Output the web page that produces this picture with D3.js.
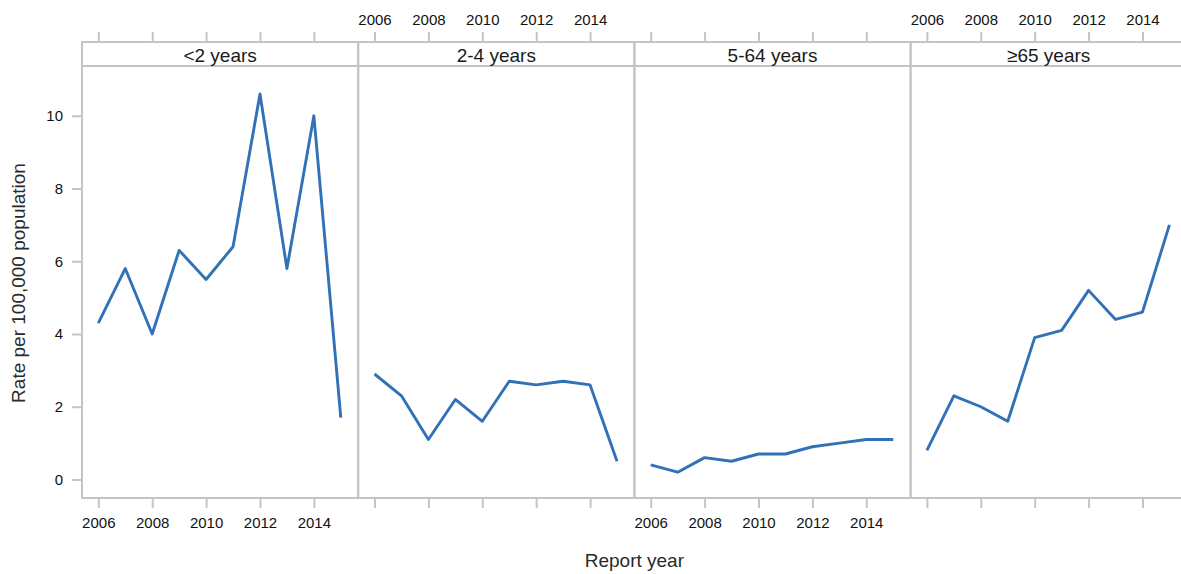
<!DOCTYPE html>
<html>
<head>
<meta charset="utf-8">
<script src="https://cdn.jsdelivr.net/npm/d3@7"></script>
<style>
  html, body { margin: 0; padding: 0; background: #fff; }
  svg { display: block; font-family: "Liberation Sans", Arial, sans-serif; }
</style>
</head>
<body>
<svg id="chart" width="1181" height="574"></svg>
<script>
// Report years and age-group panels
const years = [2006, 2007, 2008, 2009, 2010, 2011, 2012, 2013, 2014, 2015];
const groups = ["<2 years", "2-4 years", "5-64 years", "≥65 years"];

// Rates per 100,000 population, one array per age group
const rateUnder2 = [4.3, 5.8, 4.0, 6.3, 5.5, 6.4, 10.6, 5.8, 10.0, 1.7];
const rate2to4   = [2.9, 2.3, 1.1, 2.2, 1.6, 2.7, 2.6, 2.7, 2.6, 0.5];
const rate5to64  = [0.4, 0.2, 0.6, 0.5, 0.7, 0.7, 0.9, 1.0, 1.1, 1.1];
const rate65plus = [0.8, 2.3, 2.0, 1.6, 3.9, 4.1, 5.2, 4.4, 4.6, 7.0];
const seriesByGroup = [rateUnder2, rate2to4, rate5to64, rate65plus];

// Axis ticks
const xTickValues = [2006, 2008, 2010, 2012, 2014];
const yTickValues = [0, 2, 4, 6, 8, 10];

const svg = d3.select("#chart");

const frameLeft = 82, frameTop = 42, stripH = 24, frameBottom = 498;
const panelW = 276.2;
const frameColor = "#c4c4c4";
const lineColor = "#3171b7";

const y = d3.scaleLinear().domain([-0.51, 11.37]).range([frameBottom, frameTop + stripH]);

groups.forEach((g, i) => {
  const x0 = frameLeft + i * panelW;
  const x = d3.scaleLinear().domain([2005.395, 2015.645]).range([x0, x0 + panelW]);
  const panel = svg.append("g");

  // panel frame and strip
  panel.append("rect")
    .attr("x", x0).attr("y", frameTop).attr("width", panelW).attr("height", frameBottom - frameTop)
    .attr("fill", "none").attr("stroke", frameColor).attr("stroke-width", 2);
  panel.append("line")
    .attr("x1", x0).attr("x2", x0 + panelW)
    .attr("y1", frameTop + stripH).attr("y2", frameTop + stripH)
    .attr("stroke", frameColor).attr("stroke-width", 2);
  panel.append("text")
    .attr("x", x0 + panelW / 2).attr("y", frameTop + 19.5)
    .attr("text-anchor", "middle")
    .attr("font-size", 19).attr("fill", "#1a1a1a")
    .text(g);

  // bottom and top axes; labels alternate between panels
  const labelsBottom = i % 2 === 0;
  const axB = d3.axisBottom(x).tickValues(xTickValues).tickSize(10).tickPadding(9)
    .tickFormat(labelsBottom ? d3.format("d") : () => "");
  const axT = d3.axisTop(x).tickValues(xTickValues).tickSize(10).tickPadding(7)
    .tickFormat(labelsBottom ? () => "" : d3.format("d"));

  [[axB, frameBottom], [axT, frameTop]].forEach(([ax, yy]) => {
    const gAx = panel.append("g").attr("transform", `translate(0,${yy})`).call(ax);
    gAx.select(".domain").remove();
    gAx.selectAll(".tick line").attr("stroke", frameColor).attr("stroke-width", 2);
    gAx.selectAll(".tick text")
      .attr("font-size", 15).attr("fill", "#111")
      .attr("font-family", "'Liberation Sans', Arial, sans-serif");
  });

  // series line
  const data = years.map((yr, k) => ({ yr, v: seriesByGroup[i][k] }));
  panel.append("path")
    .datum(data)
    .attr("fill", "none")
    .attr("stroke", lineColor)
    .attr("stroke-width", 2.9)
    .attr("stroke-linejoin", "round")
    .attr("d", d3.line().x(d => x(d.yr)).y(d => y(d.v)));
});

// left value axis
const axY = d3.axisLeft(y).tickValues(yTickValues).tickSize(10).tickPadding(9);
const gY = svg.append("g").attr("transform", `translate(${frameLeft},0)`).call(axY);
gY.select(".domain").remove();
gY.selectAll(".tick line").attr("stroke", frameColor).attr("stroke-width", 2);
gY.selectAll(".tick text")
  .attr("font-size", 15).attr("fill", "#111")
  .attr("font-family", "'Liberation Sans', Arial, sans-serif");

// axis titles
svg.append("text")
  .attr("x", frameLeft + 2 * panelW).attr("y", 567)
  .attr("text-anchor", "middle")
  .attr("font-size", 19).attr("fill", "#2a2a2a")
  .text("Report year");

svg.append("text")
  .attr("transform", "translate(24.5,283) rotate(-90)")
  .attr("text-anchor", "middle")
  .attr("font-size", 19).attr("fill", "#2a2a2a")
  .text("Rate per 100,000 population");
</script>
</body>
</html>
